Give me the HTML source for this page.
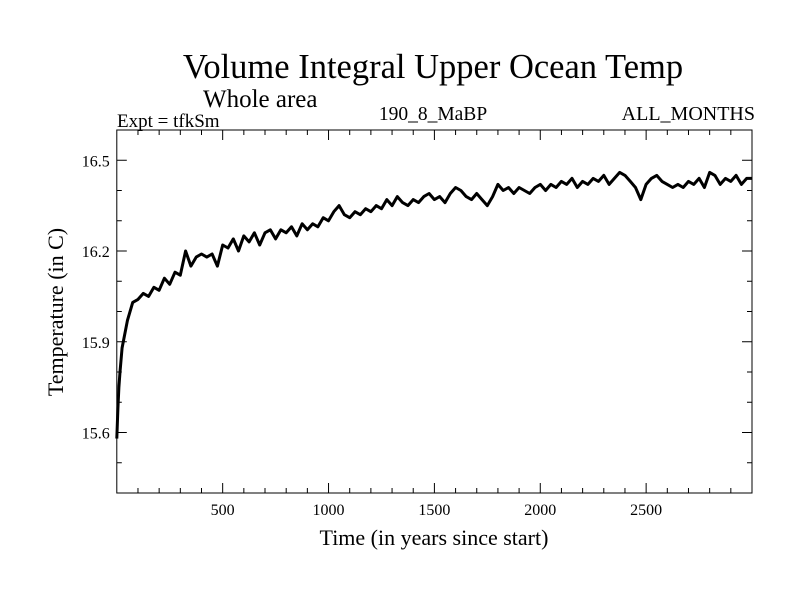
<!DOCTYPE html>
<html><head><meta charset="utf-8"><style>
html,body{margin:0;padding:0;background:#fff;}
svg{display:block;font-family:"Liberation Serif",serif;}
</style></head><body>
<svg id="c" width="800" height="600">
<text x="433" y="78" font-size="34.5" text-anchor="middle">Volume Integral Upper Ocean Temp</text>
<text x="203" y="107" font-size="25">Whole area</text>
<text x="117" y="127" font-size="19">Expt = tfkSm</text>
<text x="433" y="120" font-size="19.5" text-anchor="middle">190_8_MaBP</text>
<text x="755" y="120" font-size="20" text-anchor="end">ALL_MONTHS</text>
<text transform="translate(63,312) rotate(-90)" font-size="22" text-anchor="middle">Temperature (in C)</text>
<text x="434" y="545" font-size="22" text-anchor="middle">Time (in years since start)</text>
<g id="axes"></g>
<g id="series"></g>
</svg>
<script>
const yTickLabels=["15.6","15.9","16.2","16.5"];
const xTickLabels=["500","1000","1500","2000","2500"];
const years=[0,5,10,15,25,50,75,100,125,150,175,200,225,250,275,300,325,350,375,400,425,450,475,500,525,550,575,600,625,650,675,700,725,750,775,800,825,850,875,900,925,950,975,1000,1025,1050,1075,1100,1125,1150,1175,1200,1225,1250,1275,1300,1325,1350,1375,1400,1425,1450,1475,1500,1525,1550,1575,1600,1625,1650,1675,1700,1725,1750,1775,1800,1825,1850,1875,1900,1925,1950,1975,2000,2025,2050,2075,2100,2125,2150,2175,2200,2225,2250,2275,2300,2325,2350,2375,2400,2425,2450,2475,2500,2525,2550,2575,2600,2625,2650,2675,2700,2725,2750,2775,2800,2825,2850,2875,2900,2925,2950,2975,3000];
const temps=[15.58,15.68,15.75,15.80,15.88,15.97,16.03,16.04,16.06,16.05,16.08,16.07,16.11,16.09,16.13,16.12,16.20,16.15,16.18,16.19,16.18,16.19,16.15,16.22,16.21,16.24,16.20,16.25,16.23,16.26,16.22,16.26,16.27,16.24,16.27,16.26,16.28,16.25,16.29,16.27,16.29,16.28,16.31,16.30,16.33,16.35,16.32,16.31,16.33,16.32,16.34,16.33,16.35,16.34,16.37,16.35,16.38,16.36,16.35,16.37,16.36,16.38,16.39,16.37,16.38,16.36,16.39,16.41,16.40,16.38,16.37,16.39,16.37,16.35,16.38,16.42,16.40,16.41,16.39,16.41,16.40,16.39,16.41,16.42,16.40,16.42,16.41,16.43,16.42,16.44,16.41,16.43,16.42,16.44,16.43,16.45,16.42,16.44,16.46,16.45,16.43,16.41,16.37,16.42,16.44,16.45,16.43,16.42,16.41,16.42,16.41,16.43,16.42,16.44,16.41,16.46,16.45,16.42,16.44,16.43,16.45,16.42,16.44,16.44];
const NS="http://www.w3.org/2000/svg";
const L=116.8,R=752,T=130,B=493;
const x0=0,x1=3000,y0=15.4,y1=16.6;
const sx=v=>L+(v-x0)/(x1-x0)*(R-L);
const sy=v=>B-(v-y0)/(y1-y0)*(B-T);
const axes=document.getElementById('axes');
function mk(tag,at,parent){const e=document.createElementNS(NS,tag);for(const k in at)e.setAttribute(k,at[k]);parent.appendChild(e);return e;}
const frame=mk('rect',{x:L,y:T,width:R-L,height:B-T,fill:'none',stroke:'#000','stroke-width':1},axes);


for(let v=100;v<3000;v+=100){
  const big=v%500===0, len=big?10:5, x=sx(v);
  const t1=mk('line',{x1:x,x2:x,y1:B,y2:B-len,stroke:'#000'},axes);
  
  
  const t2=mk('line',{x1:x,x2:x,y1:T,y2:T+len,stroke:'#000'},axes);
  
  
}
xTickLabels.forEach(s=>{
  const t=mk('text',{x:sx(+s),y:B+22,'font-size':16,'text-anchor':'middle'},axes);t.textContent=s;
  
  
});
for(let i=1;i<12;i++){
  const v=y0+i*0.1, big=i%3===2, len=big?10:5, y=sy(v);
  const t1=mk('line',{x1:L,x2:L+len,y1:y,y2:y,stroke:'#000'},axes);
  
  
  const t2=mk('line',{x1:R,x2:R-len,y1:y,y2:y,stroke:'#000'},axes);
  
  
}
yTickLabels.forEach(s=>{
  const t=mk('text',{x:L-7,y:sy(+s)+6,'font-size':16,'text-anchor':'end'},axes);t.textContent=s;
  
  
});
const d=years.map((y,i)=>(i?'L':'M')+sx(y).toFixed(1)+','+sy(temps[i]).toFixed(1)).join('');
const p=mk('path',{d:d,fill:'none',stroke:'#000','stroke-width':3,'stroke-linejoin':'round'},document.getElementById('series'));


</script>
</body></html>
